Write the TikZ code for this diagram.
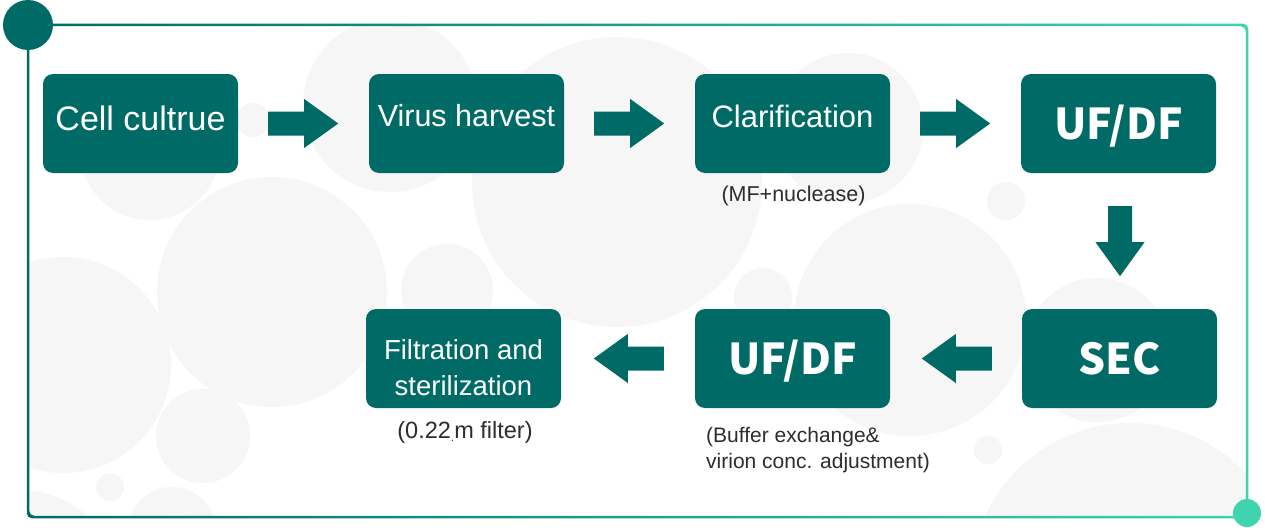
\documentclass[tikz,border=0pt]{standalone}
\usepackage{fontspec}
\setmainfont{Liberation Sans}
\newfontfamily\cjkb{Noto Sans CJK SC}
\definecolor{tealc}{RGB}{0,107,102}
\definecolor{mint}{RGB}{62,212,174}
\definecolor{bgc}{RGB}{246,246,246}
\definecolor{capc}{RGB}{45,45,45}
\newcommand{\myblockarrow}[2]{%
  \begin{scope}[shift={(#1)}, rotate=#2]
    \fill[arrowfill] (0pt,-12pt) -- (36pt,-12pt) -- (36pt,-24.5pt) -- (70pt,0pt)
      -- (36pt,24.5pt) -- (36pt,12pt) -- (0pt,12pt) -- cycle;
  \end{scope}}
\begin{document}
\begin{tikzpicture}[x=1pt,y=-1pt,
  box/.style={fill=tealc, rounded corners=10pt, minimum width=195pt, minimum height=99pt, inner sep=0pt, text=white, text depth=0pt},
  bigtxt/.style={font=\cjkb\bfseries\fontsize{42.5}{50}\selectfont, text height=31pt},
  arrowfill/.style={fill=tealc},
  captxt/.style={text=capc, inner sep=0pt},
  bgcirc/.style={fill=bgc}
]
\useasboundingbox (0,0) rectangle (1265,527);
\fill[white] (0,0) rectangle (1265,527);
% background circles
\begin{scope}
\clip (28,25) rectangle (1247,517);
\foreach \cx/\cy/\r in {390/105/87, 253/120/17, 272/292/115, 63/365/108, 150/150/70, 203/436/47,
  110/487/14, 172/531/44, 20/590/100, 617/182/145, 447/290/46, 848/128/75, 763/297/29,
  910/320/116, 1006/201/19, 1097/350/72, 988/450/14, 1130/582/159}
  \fill[bgcirc] (\cx,\cy) circle (\r pt);
\end{scope}
% frame
\shade[left color=tealc, right color=mint, even odd rule, rounded corners=5pt]
  (26.75,23.75) rectangle (1248.25,518.25) (29.25,26.25) rectangle (1245.75,515.75);
\node[circle, fill=tealc, minimum size=50pt, inner sep=0pt] (tl) at (28,25) {};
\node[circle, fill=mint, minimum size=28pt, inner sep=0pt] (br) at (1247,513) {};
% boxes
\node[box, font=\fontsize{34}{40}\selectfont, text height=13pt] (cell) at (140.5,123.5) {Cell cultrue};
\node[box, font=\fontsize{30.5}{37}\selectfont, text height=5pt] (virus) at (466.5,123.5) {Virus harvest};
\node[box, font=\fontsize{31}{37}\selectfont, text height=7.5pt] (clar) at (792.5,123.5) {Clarification};
\node[box, bigtxt] (uf1) at (1118.5,123.5) {UF/DF};
\node[box, bigtxt] (sec) at (1119.5,358.5) {SEC};
\node[box, bigtxt] (uf2) at (792.5,358.5) {UF/DF};
\node[box, font=\fontsize{27.5}{36}\selectfont, align=center, text height=74pt] (filt) at (463.5,358.5) {Filtration and\\sterilization};
% block arrows between the boxes
\myblockarrow{[xshift=30pt]cell.east}{0}
\myblockarrow{[xshift=30pt]virus.east}{0}
\myblockarrow{[xshift=30pt]clar.east}{0}
\myblockarrow{[xshift=1.5pt,yshift=-33pt]uf1.south}{-90}
\myblockarrow{[xshift=-30pt]sec.west}{180}
\myblockarrow{[xshift=-31pt]uf2.west}{180}
% captions
\node[captxt, anchor=base, font=\fontsize{21.5}{26}\selectfont] (c1) at (793.5,201) {(MF+nuclease)};
\node[captxt, anchor=base, font=\fontsize{23.5}{28}\selectfont] (c2) at (465,438) {(0.22\raisebox{-3pt}{\fontsize{12}{12}\selectfont .}m filter)};
\node[captxt, anchor=base west, align=left, font=\fontsize{21}{26}\selectfont] (c3) at (706,468) {(Buffer exchange\&\\virion conc. adjustment)};
\end{tikzpicture}
\end{document}
